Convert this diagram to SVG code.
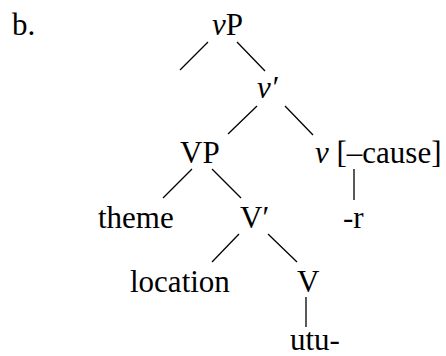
<svg xmlns="http://www.w3.org/2000/svg" width="446" height="356" viewBox="0 0 446 356">
<style>
text{font-family:"Liberation Serif","Times New Roman","DejaVu Serif",serif;font-size:31px;fill:#000}
.i{font-style:italic}
#edges line{stroke:#000;stroke-width:1.3;stroke-linecap:butt}
</style>
<rect width="446" height="356" fill="#fff"/>
<text x="12" y="35">b.</text>
<g id="edges">
<line x1="208" y1="42" x2="180" y2="70"/>
<line x1="237" y1="42" x2="265" y2="71"/>
<line x1="257" y1="106" x2="228" y2="134"/>
<line x1="285" y1="106" x2="313" y2="135"/>
<line x1="192" y1="169" x2="163" y2="198"/>
<line x1="212" y1="169" x2="241" y2="198"/>
<line x1="354" y1="169" x2="354" y2="200"/>
<line x1="239" y1="234" x2="212" y2="262"/>
<line x1="268" y1="234" x2="297" y2="262"/>
<line x1="306" y1="297" x2="306" y2="327"/>
</g>
<g id="vP"><text x="212" y="35"><tspan class="i">v</tspan>P</text></g>
<g id="vbar"><text x="257" y="98" class="i">v′</text></g>
<g id="VP"><text x="180" y="163">VP</text></g>
<g id="v"><text x="315" y="163"><tspan class="i">v</tspan> [–cause]</text></g>
<g id="theme"><text x="98" y="228">theme</text></g>
<g id="Vbar"><text x="240" y="228">V′</text></g>
<g id="r"><text x="343" y="228">-r</text></g>
<g id="location"><text x="130" y="292">location</text></g>
<g id="V"><text x="297" y="292">V</text></g>
<g id="utu"><text x="290" y="350">utu-</text></g>
</svg>
